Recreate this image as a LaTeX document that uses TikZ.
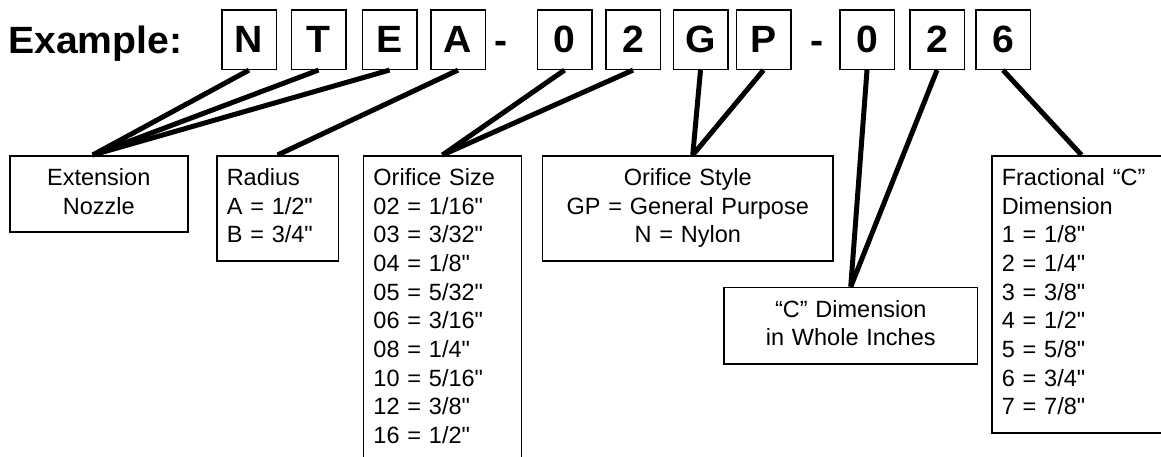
\documentclass[tikz,border=0pt]{standalone}
\usepackage{fontspec}
\newfontfamily\arialfont{Liberation Sans}
\newfontfamily\arialbold[FakeStretch=1.03]{Liberation Sans Bold}
\begin{document}
\begin{tikzpicture}[x=1pt,y=-1pt,
  letterbox/.style={draw,line width=1.5pt,minimum width=54.5pt,minimum height=59.3pt,inner sep=0pt,
    font=\arialbold\fontsize{38pt}{42pt}\selectfont},
  bigtext/.style={inner sep=0pt,font=\arialbold\fontsize{38pt}{42pt}\selectfont},
  infobox/.style={draw,line width=1.5pt,anchor=north west,inner xsep=10pt,inner ysep=9.5pt,
    font=\arialfont\fontsize{23.5pt}{28.7pt}\selectfont,execute at begin node=\strut,execute at end node=\strut},
  link/.style={line width=5pt}]
\useasboundingbox (0,0) rectangle (1161,456);
\clip (0,0) rectangle (1161,456);
\node[bigtext,anchor=base west] (title) at (8,53) {Example:};
\foreach \nm/\x/\l in {l1/249/N,l2/318.5/T,l3/389.5/E,l4/458/A,l5/564.5/0,l6/633/2,
                       l7/700.5/G,l8/763.5/P,l9/867/0,l10/937/2,l11/1003/6}
{
\node[letterbox] (\nm) at (\x,39.7) {\l};
}
\node[bigtext,anchor=base] (dash1) at (501.5,53) {-};
\node[bigtext,anchor=base] (dash2) at (817.5,53) {-};
\node[infobox,text width=158pt,align=center] (ext) at (9,155) {Extension\\Nozzle};
\node[infobox,text width=101.7pt,align=left] (rad) at (216,155) {Radius\\A = 1/2"\\B = 3/4"};
\node[infobox,text width=138pt,align=left,text depth=300pt] (osize) at (362.7,155)
  {Orifice Size\\02 = 1/16"\\03 = 3/32"\\04 = 1/8"\\05 = 5/32"\\06 = 3/16"\\08 = 1/4"\\10 = 5/16"\\12 = 3/8"\\16 = 1/2"};
\node[infobox,text width=270.6pt,align=center] (ostyle) at (541.7,155)
  {Orifice Style\\GP = General Purpose\\N = Nylon};
\node[infobox,text width=233.4pt,align=center] (cdim) at (723.3,286.7)
  {“C” Dimension\\in Whole Inches};
\node[infobox,text width=159.4pt,align=left] (frac) at (991,155)
  {Fractional “C”\\Dimension\\1 = 1/8"\\2 = 1/4"\\3 = 3/8"\\4 = 1/2"\\5 = 5/8"\\6 = 3/4"\\7 = 7/8"};
\draw[link] (l1.south) -- ([xshift=-6pt]ext.north);
\draw[link] (l2.south) -- ([xshift=-6pt]ext.north);
\draw[link] (l3.south) -- ([xshift=-6pt]ext.north);
\draw[link] (l4.south) -- (rad.north);
\draw[link] (l5.south) -- (osize.north);
\draw[link] (l6.south) -- (osize.north);
\draw[link] (l7.south) -- ([xshift=5pt]ostyle.north);
\draw[link] (l8.south) -- ([xshift=5pt]ostyle.north);
\draw[link] (l9.south) -- (cdim.north);
\draw[link] (l10.south) -- (cdim.north);
\draw[link] (l11.south) -- (frac.north);
\end{tikzpicture}
\end{document}
